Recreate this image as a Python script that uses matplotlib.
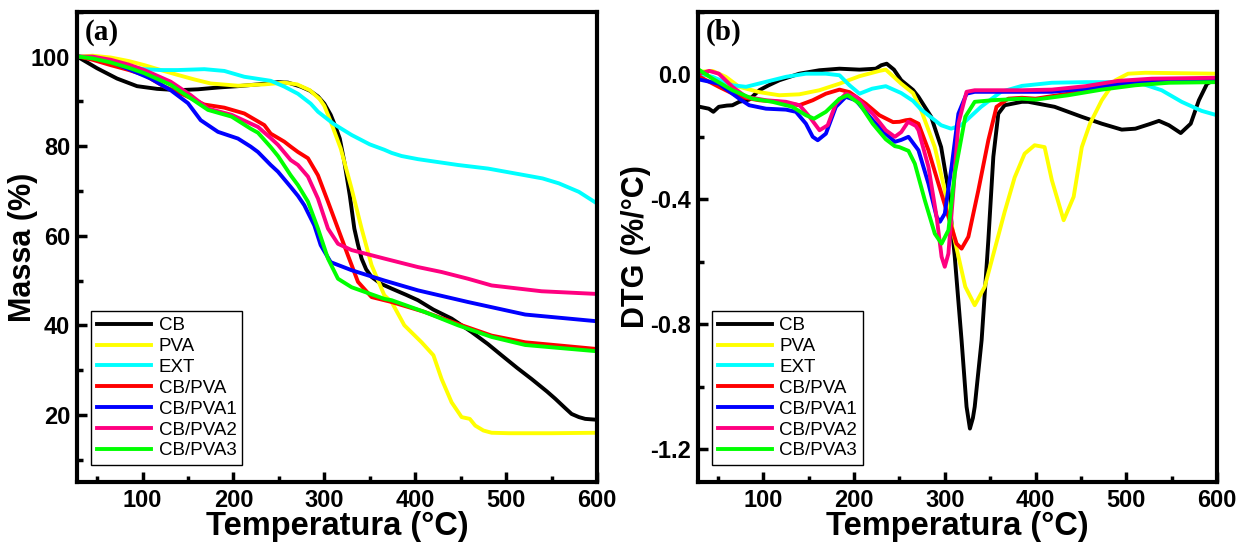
import matplotlib
matplotlib.use("Agg")
import matplotlib.pyplot as plt
from matplotlib.ticker import MultipleLocator, FormatStrFormatter

plt.rcParams['font.family'] = ['Liberation Sans', 'DejaVu Sans']

labels = ["CB", "PVA", "EXT", "CB/PVA", "CB/PVA1", "CB/PVA2", "CB/PVA3"]
colors = ["#000000", "#FFFF00", "#00FFFF", "#FF0000", "#0000FF", "#FF0080", "#00FF00"]

# --- TGA: mass loss (%) vs temperature (°C) ---
cb_t = [30, 50, 72, 94, 116, 139, 161, 183, 205, 227, 249, 260, 274, 284, 293, 300, 307, 312,
        317, 322, 328, 333, 337, 341, 346, 352, 362, 374, 390, 403, 420, 440, 462, 480, 495,
        512, 528, 545, 554, 565, 572, 580, 587, 600]
cb_m = [99.8, 97.4, 95.1, 93.4, 92.8, 92.5, 92.7, 93.1, 93.4, 93.8, 94.3, 94.2, 93.3, 92.4,
        91.1, 89.5, 87.0, 84.5, 81.7, 76.5, 69.0, 61.6, 58.0, 54.9, 52.5, 50.8, 49.3, 48.2,
        46.8, 45.6, 43.5, 41.5, 38.5, 35.8, 33.3, 30.5, 28.0, 25.2, 23.6, 21.5, 20.2, 19.5,
        19.1, 18.9]

pva_t = [30, 45, 65, 85, 102, 120, 139, 157, 175, 205, 234, 256, 270, 284, 295, 300, 307, 318,
         330, 341, 352, 366, 374, 388, 407, 420, 429, 440, 451, 460, 466, 475, 484, 503, 550, 600]
pva_m = [100.0, 100.2, 99.8, 99.0, 98.1, 97.0, 95.9, 94.9, 94.0, 93.5, 93.8, 94.2, 93.8, 92.5,
         90.5, 89.0, 85.5, 79.5, 70.5, 61.6, 53.4, 46.7, 45.2, 40.0, 36.2, 33.3, 28.0, 22.8,
         19.5, 19.1, 17.6, 16.5, 16.0, 15.9, 15.9, 16.0]

ext_t = [30, 45, 65, 85, 102, 120, 139, 168, 190, 212, 241, 256, 271, 285, 293, 310, 330, 350,
         366, 374, 385, 403, 447, 480, 521, 540, 558, 580, 600]
ext_m = [100.0, 99.7, 98.9, 97.8, 97.2, 97.0, 97.0, 97.2, 96.8, 95.5, 94.6, 93.3, 91.7, 89.5,
         87.7, 85.0, 82.5, 80.4, 79.2, 78.5, 77.8, 77.1, 75.8, 75.0, 73.5, 72.8, 71.7, 69.8, 67.2]

cbpva_t = [30, 45, 65, 85, 102, 124, 146, 168, 190, 212, 234, 241, 256, 263, 271, 282, 293, 304,
           315, 326, 337, 352, 374, 410, 447, 484, 521, 558, 600]
cbpva_m = [100.0, 99.3, 98.1, 97.0, 95.9, 93.3, 91.4, 89.3, 88.6, 87.3, 84.7, 82.8, 81.0, 79.9,
           78.7, 77.3, 73.5, 67.6, 61.6, 55.6, 49.7, 46.3, 45.2, 43.0, 40.3, 37.7, 36.2, 35.5, 34.7]

cbpva1_t = [30, 45, 65, 87, 109, 131, 150, 164, 183, 205, 219, 227, 241, 249, 263, 271, 278, 289,
            296, 307, 330, 366, 403, 458, 521, 600]
cbpva1_m = [100.0, 99.8, 98.9, 97.0, 95.1, 92.5, 89.6, 85.8, 83.2, 81.7, 79.9, 78.7, 75.8, 74.3,
            70.9, 68.9, 66.8, 62.3, 57.9, 54.1, 52.3, 50.0, 47.8, 45.2, 42.4, 40.9]

cbpva2_t = [30, 45, 65, 85, 102, 131, 153, 172, 198, 227, 241, 249, 263, 271, 282, 293, 304, 315,
            330, 366, 403, 429, 458, 484, 539, 600]
cbpva2_m = [100.0, 100.0, 99.3, 98.2, 97.0, 94.4, 91.4, 88.4, 87.0, 84.3, 81.8, 80.3, 76.9, 75.8,
            73.2, 68.3, 61.6, 58.2, 56.8, 54.9, 53.0, 51.9, 50.4, 48.9, 47.6, 47.0]

cbpva3_t = [30, 45, 65, 85, 102, 131, 153, 172, 198, 219, 227, 241, 249, 263, 271, 282, 293, 304,
            315, 330, 366, 374, 410, 447, 484, 521, 600]
cbpva3_m = [100.0, 99.6, 98.7, 97.5, 96.3, 93.7, 90.7, 88.1, 86.6, 83.9, 83.0, 79.8, 77.8, 73.5,
            71.3, 67.6, 61.6, 54.9, 50.4, 48.5, 45.9, 45.6, 43.0, 40.0, 37.4, 35.6, 34.2]

# --- DTG (%/°C) vs temperature (°C) ---
cb_dt = [30, 40, 45, 51, 60, 66, 73.5, 84.5, 95.6, 106, 117.7, 139.7, 161.8, 183.9, 206, 224,
         230, 236, 244, 252, 265, 271, 285, 296, 304, 311, 318.5, 324, 327.7, 331, 333, 340.6,
         348, 353.5, 359, 366, 385, 392, 421, 451, 473, 495, 510, 525, 536, 547, 560, 571, 580,
         589, 598, 600]
cb_d = [-0.104, -0.110, -0.120, -0.104, -0.100, -0.099, -0.088, -0.081, -0.051, -0.035, -0.019,
        0.002, 0.013, 0.018, 0.015, 0.018, 0.029, 0.034, 0.015, -0.019, -0.050, -0.072, -0.136,
        -0.233, -0.371, -0.584, -0.851, -1.064, -1.134, -1.100, -1.064, -0.851, -0.531, -0.264,
        -0.126, -0.099, -0.088, -0.088, -0.104, -0.136, -0.158, -0.177, -0.174, -0.160, -0.149,
        -0.163, -0.188, -0.158, -0.083, -0.030, -0.017, -0.017]

pva_dt = [30, 44, 58.7, 73.5, 95.6, 117.7, 139.7, 161.8, 183.9, 206, 228, 235, 252, 265, 274,
          289, 300, 311, 322.6, 333, 344, 355, 366, 377, 388, 399, 410, 418, 431, 442, 451, 460,
          473, 488, 502, 521, 600]
pva_d = [0.008, 0.011, -0.008, -0.040, -0.057, -0.067, -0.064, -0.051, -0.030, -0.006, 0.011,
         0.015, -0.030, -0.060, -0.115, -0.233, -0.371, -0.531, -0.680, -0.739, -0.680, -0.560,
         -0.440, -0.330, -0.254, -0.227, -0.233, -0.339, -0.467, -0.392, -0.233, -0.158, -0.083,
         -0.019, 0.002, 0.005, 0.002]

ext_dt = [30, 44, 66, 81, 103, 125, 147, 169, 184, 195, 206, 220, 235, 252, 265, 274, 296, 307,
          318, 340, 362, 385, 418, 455, 491, 517, 539, 561, 583, 600]
ext_d = [0.002, -0.008, -0.035, -0.040, -0.024, -0.008, 0.002, 0.002, -0.003, -0.035, -0.062,
         -0.046, -0.038, -0.060, -0.085, -0.113, -0.163, -0.174, -0.163, -0.104, -0.056, -0.037,
         -0.027, -0.025, -0.025, -0.030, -0.051, -0.088, -0.117, -0.131]

cbpva_dt = [30, 51, 73.5, 95.6, 117.7, 139.7, 154.5, 169, 184, 195, 213, 228, 243, 250, 257, 262,
            271, 282, 293, 304, 313, 318.5, 326, 337, 348, 357, 370, 385, 400, 436, 473, 510, 547,
            600]
cbpva_d = [-0.008, -0.040, -0.072, -0.083, -0.088, -0.099, -0.083, -0.062, -0.049, -0.057, -0.094,
           -0.131, -0.153, -0.152, -0.147, -0.145, -0.158, -0.243, -0.350, -0.456, -0.542, -0.558,
           -0.520, -0.371, -0.211, -0.104, -0.078, -0.075, -0.078, -0.062, -0.040, -0.025, -0.021,
           -0.019]

cbpva1_dt = [30, 51, 73.5, 84.5, 103, 125, 136, 147, 154.5, 160, 169, 180, 191, 202, 220.6, 235,
             245, 252, 260, 271, 282, 291, 294.7, 300, 307.5, 315, 324, 333, 385, 418, 455, 491,
             528, 600]
cbpva1_d = [-0.017, -0.030, -0.078, -0.099, -0.110, -0.113, -0.120, -0.158, -0.200, -0.211, -0.190,
            -0.104, -0.072, -0.083, -0.147, -0.190, -0.216, -0.210, -0.200, -0.243, -0.350, -0.456,
            -0.472, -0.446, -0.296, -0.126, -0.062, -0.056, -0.056, -0.056, -0.046, -0.032, -0.025,
            -0.021]

cbpva2_dt = [30, 40.5, 51, 66, 81, 103, 125, 140, 151, 162, 171, 180, 191, 202, 220.6, 235, 245,
             252, 259.6, 268, 271, 282, 291, 296.5, 300, 304, 309.5, 315, 324, 333, 385, 418, 455,
             491, 528, 600]
cbpva2_d = [0.002, 0.011, 0.002, -0.040, -0.072, -0.083, -0.088, -0.099, -0.136, -0.179, -0.163,
            -0.094, -0.062, -0.072, -0.126, -0.179, -0.200, -0.185, -0.152, -0.165, -0.179, -0.296,
            -0.456, -0.584, -0.616, -0.574, -0.371, -0.158, -0.056, -0.051, -0.051, -0.049, -0.038,
            -0.021, -0.014, -0.011]

cbpva3_dt = [30, 44, 66, 88, 110, 132, 147, 156, 169, 184, 193, 206, 220.6, 235, 245, 250, 260,
             267, 278, 289, 296.5, 304, 311, 322.6, 333, 352, 385, 400, 436, 473, 510, 547, 600]
cbpva3_d = [0.013, -0.014, -0.051, -0.078, -0.088, -0.104, -0.131, -0.142, -0.120, -0.078, -0.067,
            -0.094, -0.158, -0.208, -0.230, -0.233, -0.245, -0.286, -0.403, -0.510, -0.542, -0.499,
            -0.318, -0.136, -0.088, -0.083, -0.078, -0.081, -0.067, -0.049, -0.035, -0.027, -0.025]

tga_series = [(cb_t, cb_m), (pva_t, pva_m), (ext_t, ext_m), (cbpva_t, cbpva_m),
              (cbpva1_t, cbpva1_m), (cbpva2_t, cbpva2_m), (cbpva3_t, cbpva3_m)]
dtg_series = [(cb_dt, cb_d), (pva_dt, pva_d), (ext_dt, ext_d), (cbpva_dt, cbpva_d),
              (cbpva1_dt, cbpva1_d), (cbpva2_dt, cbpva2_d), (cbpva3_dt, cbpva3_d)]


def style_axes(ax, ylabel, label_x, tag):
    for sp in ax.spines.values():
        sp.set_linewidth(3)
    ax.tick_params(which='both', direction='in', top=False, right=False, width=2.5,
                   labelsize=17, pad=5)
    ax.tick_params(which='major', length=7)
    ax.tick_params(which='minor', length=4)
    for lab in ax.get_xticklabels() + ax.get_yticklabels():
        lab.set_fontweight('bold')
    ax.set_xlim(28, 600)
    ax.xaxis.set_major_locator(MultipleLocator(100))
    ax.xaxis.set_minor_locator(MultipleLocator(50))
    ax.set_xlabel("Temperatura (°C)", fontsize=23.5, fontweight='bold', va='center')
    ax.xaxis.set_label_coords(0.5, -0.094)
    ax.set_ylabel(ylabel, fontsize=22, fontweight='bold', va='center')
    ax.yaxis.set_label_coords(label_x, 0.5)
    ax.text(0.015, 0.985, tag, transform=ax.transAxes, ha='left', va='top',
            fontsize=21, fontweight='bold', family=['Liberation Serif', 'DejaVu Serif'])
    leg = ax.legend(loc='lower left', bbox_to_anchor=(0.027, 0.036), borderaxespad=0,
                    fancybox=False, edgecolor='black', framealpha=1, fontsize=13.5,
                    handlelength=2.9, handletextpad=0.4, labelspacing=0.2, borderpad=0.3)
    leg.get_frame().set_linewidth(1.0)


fig = plt.figure(figsize=(12.53, 5.48), dpi=100)
ax_a = fig.add_axes([0.0615, 0.1204, 0.415, 0.858])
ax_b = fig.add_axes([0.557, 0.1204, 0.4143, 0.858])

for (t, m), lab, c in zip(tga_series, labels, colors):
    ax_a.plot(t, m, color=c, lw=2.8, label=lab)
ax_a.set_ylim(5, 110)
ax_a.set_yticks([20, 40, 60, 80, 100])
ax_a.yaxis.set_minor_locator(MultipleLocator(10))
style_axes(ax_a, "Massa (%)", -0.104, "(a)")

for (t, d), lab, c in zip(dtg_series, labels, colors):
    ax_b.plot(t, d, color=c, lw=2.8, label=lab)
ax_b.set_ylim(-1.305, 0.2)
ax_b.set_yticks([-1.2, -0.8, -0.4, 0.0])
ax_b.yaxis.set_minor_locator(MultipleLocator(0.2))
ax_b.yaxis.set_major_formatter(FormatStrFormatter('%.1f'))
style_axes(ax_b, "DTG (%/°C)", -0.12, "(b)")

fig.savefig("out.png", dpi=100)
